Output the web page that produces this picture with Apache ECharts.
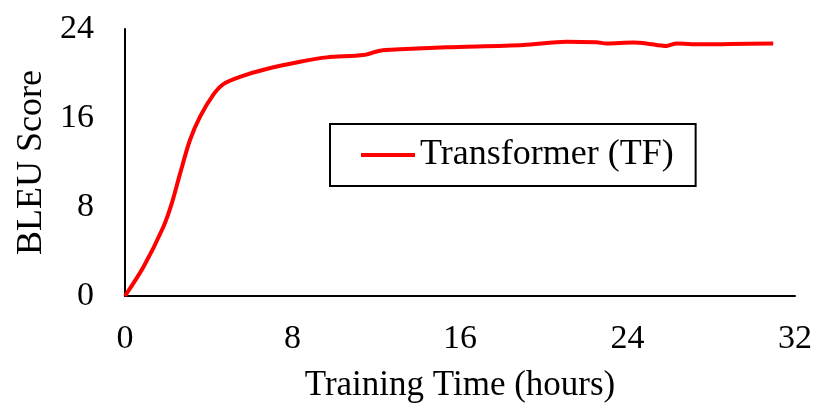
<!DOCTYPE html>
<html>
<head>
<meta charset="utf-8">
<script src="https://cdn.jsdelivr.net/npm/echarts@6/dist/echarts.min.js"></script>
<style>
html,body{margin:0;padding:0;background:#fff;}
#chart{width:831px;height:414px;}
</style>
</head>
<body>
<div id="chart"></div>
<script>
var hours = [0, 0.88, 1.83, 2.23, 2.63, 3.1, 3.58, 4.22, 4.7, 5.49, 6.76, 8.36, 9.63, 11.38, 12.18, 13.13, 15.36, 19.02, 21.09, 22.52, 23.0, 24.28, 24.9, 25.86, 26.34, 27.46, 28.9, 30.96];
var bleu = [0, 2.6, 6.2, 8.3, 11.0, 14.0, 16.1, 18.1, 19.05, 19.7, 20.4, 21.05, 21.45, 21.66, 22.05, 22.17, 22.35, 22.56, 22.86, 22.8, 22.7, 22.78, 22.7, 22.47, 22.7, 22.62, 22.65, 22.7];
var seriesName = 'Transformer (TF)';
var xTitle = 'Training Time (hours)';
var yTitle = 'BLEU Score';

var font = '"Liberation Serif", "Times New Roman", serif';
var pts = hours.map(function (h, i) { return [h, bleu[i]]; });

var chart = echarts.init(document.getElementById('chart'), null, {renderer: 'canvas'});
chart.setOption({
  animation: false,
  backgroundColor: '#ffffff',
  grid: {left: 125, right: 36, top: 29, bottom: 118},
  legend: {
    data: [{name: seriesName, icon: 'rect'}],
    left: 330, top: 124,
    padding: [13, 22, 13, 31],
    borderColor: '#000', borderWidth: 2,
    itemWidth: 54, itemHeight: 4,
    textStyle: {fontFamily: font, fontSize: 36, color: '#000'}
  },
  xAxis: {
    type: 'value', min: 0, max: 32, interval: 8,
    name: xTitle, nameLocation: 'middle', nameGap: 72,
    nameTextStyle: {fontFamily: font, fontSize: 35, color: '#000'},
    axisLine: {show: true, lineStyle: {color: '#000', width: 2}},
    axisTick: {show: false},
    splitLine: {show: false},
    axisLabel: {fontFamily: font, fontSize: 34, color: '#000', margin: 26}
  },
  yAxis: {
    type: 'value', min: 0, max: 24, interval: 8,
    name: yTitle, nameLocation: 'middle', nameGap: 72, nameRotate: 90,
    nameTextStyle: {fontFamily: font, fontSize: 36, color: '#000'},
    axisLine: {show: true, lineStyle: {color: '#000', width: 2}},
    axisTick: {show: false},
    splitLine: {show: false},
    axisLabel: {fontFamily: font, fontSize: 34, color: '#000', margin: 31}
  },
  series: [{
    name: seriesName,
    type: 'line',
    data: pts,
    smooth: 0.3,
    symbol: 'none',
    lineStyle: {color: '#ff0000', width: 4},
    itemStyle: {color: '#ff0000'}
  }]
});
</script>
</body>
</html>
